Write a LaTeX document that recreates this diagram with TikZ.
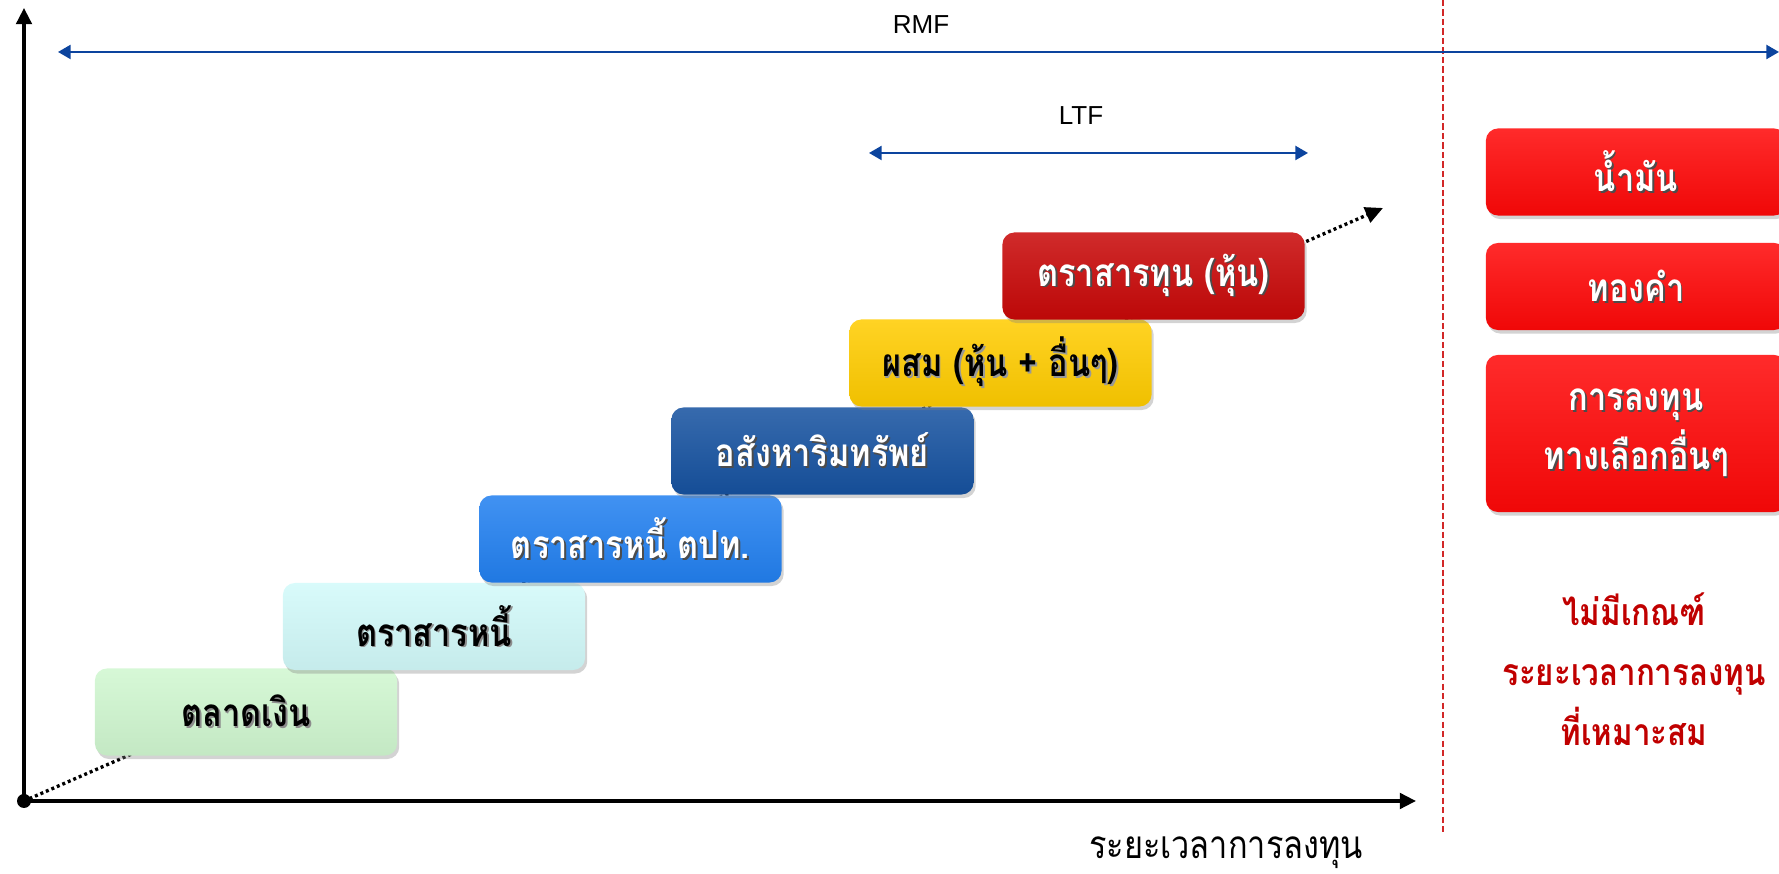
\documentclass[tikz,border=0pt]{standalone}
\usepackage{fontspec}
\setmainfont{Liberation Sans}
\newfontfamily\thai[Script=Thai, FakeStretch=0.84]{Loma}
\usetikzlibrary{arrows.meta,shadows}
\definecolor{rmfblue}{RGB}{12,68,158}
\definecolor{cgreen}{RGB}{208,247,208}
\definecolor{ccyan}{RGB}{210,250,250}
\definecolor{cblue}{RGB}{34,128,240}
\definecolor{cdblue}{RGB}{22,82,160}
\definecolor{cgold}{RGB}{255,204,0}
\definecolor{cdred}{RGB}{200,8,8}
\definecolor{cred}{RGB}{255,8,8}
\definecolor{tred}{RGB}{192,0,0}
\definecolor{dashred}{RGB}{210,40,40}
\newcommand\shtx[2]{\leavevmode\rlap{\kern0.5pt\raisebox{-0.5pt}{\textcolor{#1}{#2}}}#2}
\tikzset{
  stepbox/.style={rounded corners=0.12cm, minimum width=3.02cm, minimum height=0.87cm,
    inner sep=0pt, font=\thai\bfseries\fontsize{11}{13}\selectfont,
    drop shadow={shadow xshift=0.6pt, shadow yshift=-1pt, opacity=0.35}},
  gloss/.style={top color=#1!86!white, middle color=#1, bottom color=#1!94!black},
  redbox/.style={stepbox, minimum width=3.0cm, gloss=cred, text=white},
  axis/.style={line width=1pt, -{Triangle[length=4.6pt,width=4.4pt]}},
  span/.style={draw=rmfblue, line width=0.6pt, {Triangle[length=3.6pt,width=4pt]}-{Triangle[length=3.6pt,width=4pt]}},
  lbl/.style={font=\fontsize{7.4}{9}\selectfont},
  thaitxt/.style={font=\thai\fontsize{11}{16.8}\selectfont, align=center},
}
\begin{document}
\begin{tikzpicture}[x=0.01cm,y=-0.01cm]
\useasboundingbox (0,0) rectangle (1779,874);
\coordinate (O) at (24,801);
\coordinate (ytip) at (24,8);
\coordinate (xtip) at (1416,801);
\coordinate (trend) at (1383,208);
% dotted trend line
\draw[line width=0.95pt, dash pattern=on 0.85pt off 0.85pt, -{Triangle[length=5pt,width=4.6pt]}] (O) -- (trend);
% steps
\node[stepbox, gloss=cgreen, text=black] (s1) at (246,712) {\shtx{black!45}{ตลาดเงิน}};
\node[stepbox, gloss=ccyan, text=black] (s2) at (434,626.5) {\shtx{black!45}{ตราสารหนี้}};
\node[stepbox, gloss=cblue, text=white] (s3) at (630.5,539) {\shtx{black!70}{ตราสารหนี้ ตปท.}};
\node[stepbox, gloss=cdblue, text=white] (s4) at (822.5,451) {\shtx{black!70}{อสังหาริมทรัพย์}};
\node[stepbox, gloss=cgold, text=black] (s5) at (1000.5,363) {\shtx{black!40}{ผสม (หุ้น + อื่นๆ)}};
\node[stepbox, gloss=cdred, text=white] (s6) at (1153.5,276) {\shtx{black!70}{ตราสารทุน (หุ้น)}};
% axes
\draw[axis] (O) -- (ytip);
\draw[axis] (O) -- (xtip);
\fill (O) circle (7);
\node[thaitxt] (xl) at (1226,853) {ระยะเวลาการลงทุน};
% divider
\coordinate (dtop) at (1443,0);
\coordinate (dbot) at (1443,832);
\draw[dashred, line width=0.45pt, dash pattern=on 1.8pt off 0.9pt] (dtop) -- (dbot);
% RMF / LTF
\coordinate (rl) at (58,52);
\coordinate (rr) at (1779,52);
\draw[span] (rl) -- (rr);
\node[lbl] (rmf) at (921,25) {RMF};
\coordinate (ll) at (869,153);
\coordinate (lr) at (1308,153);
\draw[span] (ll) -- (lr);
\node[lbl] (ltf) at (1081,116) {LTF};
% right column
\begin{scope}
\clip (0,0) rectangle (1779,874);
\node[redbox] (r1) at (1636,172) {\shtx{black!70}{น้ำมัน}};
\node[redbox] (r2) at (1636,286.5) {\shtx{black!70}{ทองคำ}};
\node[redbox, minimum height=1.57cm, align=center, font=\thai\bfseries\fontsize{11}{16.8}\selectfont] (r3) at (1636,433.5) {\shtx{black!70}{การลงทุน}\\\shtx{black!70}{ทางเลือกอื่นๆ}};
\end{scope}
\node[thaitxt, text=tred, font=\thai\bfseries\fontsize{10.6}{17}\selectfont] (note) at (1634,669) {ไม่มีเกณฑ์\\ระยะเวลาการลงทุน\\ที่เหมาะสม};
\end{tikzpicture}
\end{document}
